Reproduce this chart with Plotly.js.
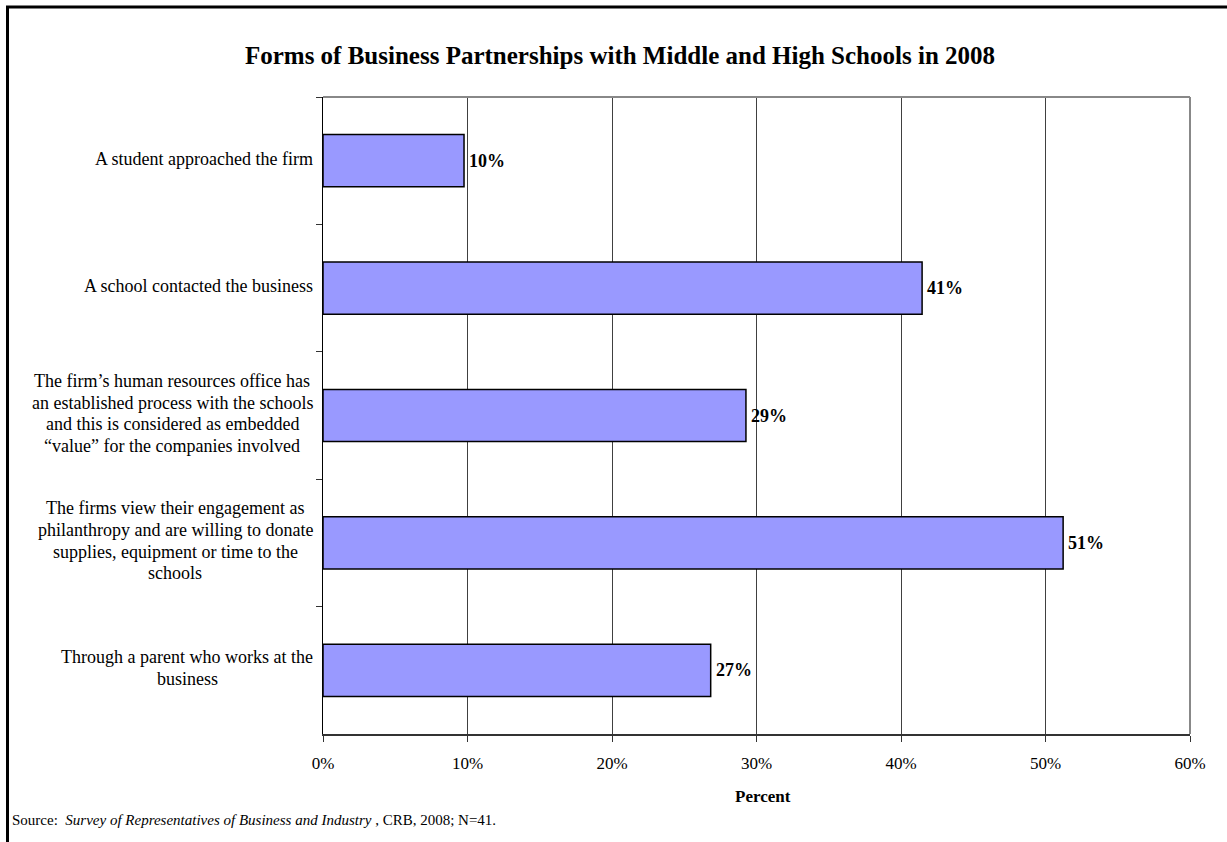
<!DOCTYPE html>
<html>
<head>
<meta charset="utf-8">
<script src="https://cdn.plot.ly/plotly-3.0.1.min.js"></script>
<style>html,body{margin:0;padding:0;background:#fff;}#chart{width:1227px;height:842px;}</style>
</head>
<body>
<div id="chart"></div>
<script>
const categories = [
  "A student approached the firm",
  "A school contacted the business",
  "The firm\u2019s human resources office has<br>an established process with the schools<br>and this is considered as embedded<br>\u201cvalue\u201d for the companies involved",
  "The firms view their engagement as<br>philanthropy and are willing to donate<br>supplies, equipment or time to the<br>schools",
  "Through a parent who works at the<br>business"
];
const percents = [9.76, 41.46, 29.27, 51.22, 26.83];
const xTickVals = [0, 10, 20, 30, 40, 50, 60];
const xTickText = ["0%", "10%", "20%", "30%", "40%", "50%", "60%"];
const titleText = "Forms of Business Partnerships with Middle and High Schools in 2008";
const xTitleText = "Percent";
const sourceText = "Source:  <i>Survey of Representatives of Business and Industry</i> , CRB, 2008; N=41.";

const W = 1227, H = 842;
const L = 323, R = 1190, T = 97, B = 734;
const px = v => (v - L) / (R - L);
const py = v => (B - v) / (B - T);
const serif = "Liberation Serif, Times New Roman, serif";
const catKeys = categories.map((c, i) => 'c' + i);
const labelSize = 18;

const ctx = document.createElement('canvas').getContext('2d');
ctx.font = labelSize + 'px "Liberation Serif", "Times New Roman", serif';

const trace = {
  type: 'bar',
  orientation: 'h',
  y: catKeys,
  x: percents,
  width: 0.41,
  marker: {color: '#9999FF', line: {color: '#000000', width: 1.5}},
  hoverinfo: 'none'
};

const annotations = [];
const lineGap = 21.7;
const rightGap = 10;
categories.forEach((c, i) => {
  const lines = c.split('<br>');
  const n = lines.length;
  const maxW = Math.max(...lines.map(s => ctx.measureText(s).width));
  lines.forEach((ln, k) => {
    annotations.push({
      xref: 'paper', yref: 'y', x: 0, y: catKeys[i], xshift: -rightGap - maxW / 2,
      yshift: -((k - (n - 1) / 2) * lineGap) + 2,
      xanchor: 'center', yanchor: 'middle', align: 'center',
      text: ln, showarrow: false,
      font: {family: serif, size: labelSize, color: '#000'}
    });
  });
});
percents.forEach((v, i) => {
  annotations.push({
    xref: 'x', yref: 'y', x: v, y: catKeys[i], xshift: 3,
    xanchor: 'left', yanchor: 'middle',
    text: '<b>' + Math.round(v) + '%</b>', showarrow: false,
    font: {family: serif, size: 18, color: '#000'}
  });
});
annotations.push({
  xref: 'paper', yref: 'paper', x: px(763), y: py(796),
  xanchor: 'center', yanchor: 'middle', text: '<b>' + xTitleText + '</b>', showarrow: false,
  font: {family: serif, size: 17, color: '#000'}
});
annotations.push({
  xref: 'paper', yref: 'paper', x: px(10), y: py(820),
  xanchor: 'left', yanchor: 'middle', text: sourceText, showarrow: false,
  font: {family: serif, size: 15, color: '#000'}
});

const layout = {
  width: W, height: H,
  margin: {l: L, r: W - R, t: T, b: H - B, pad: 0},
  paper_bgcolor: '#fff', plot_bgcolor: '#fff',
  showlegend: false,
  title: {text: '<b>' + titleText + '</b>', x: 620 / W, xanchor: 'center', y: 1 - 55 / H, yanchor: 'middle', xref: 'container', yref: 'container',
    font: {family: serif, size: 25, color: '#000'}},
  xaxis: {
    range: [0, 60], tickvals: xTickVals, ticktext: xTickText,
    showgrid: true, gridcolor: '#404040', gridwidth: 1,
    zeroline: false, showline: true, linecolor: '#333', linewidth: 1.5,
    ticks: 'outside', ticklen: 6, tickcolor: '#333', ticklabelstandoff: 7,
    tickfont: {family: serif, size: 17, color: '#000'},
    fixedrange: true
  },
  yaxis: {
    type: 'category', autorange: 'reversed', tickson: 'boundaries',
    showticklabels: false, showgrid: false, zeroline: false,
    showline: true, linecolor: '#000', linewidth: 1.5,
    ticks: 'outside', ticklen: 6, tickcolor: '#333',
    fixedrange: true
  },
  annotations: annotations,
  shapes: [
    {type: 'line', xref: 'paper', yref: 'paper', x0: 0, x1: 1, y0: 1, y1: 1, line: {color: '#888', width: 2}},
    {type: 'line', xref: 'paper', yref: 'paper', x0: 1, x1: 1, y0: 0, y1: 1, line: {color: '#888', width: 2}},
    {type: 'line', xref: 'paper', yref: 'paper', x0: px(6), x1: px(1227), y0: py(7), y1: py(7), line: {color: '#000', width: 3}},
    {type: 'line', xref: 'paper', yref: 'paper', x0: px(7.5), x1: px(7.5), y0: py(6), y1: py(842), line: {color: '#000', width: 3}}
  ]
};

Plotly.newPlot('chart', [trace], layout, {displayModeBar: false, staticPlot: true});
</script>
</body>
</html>
